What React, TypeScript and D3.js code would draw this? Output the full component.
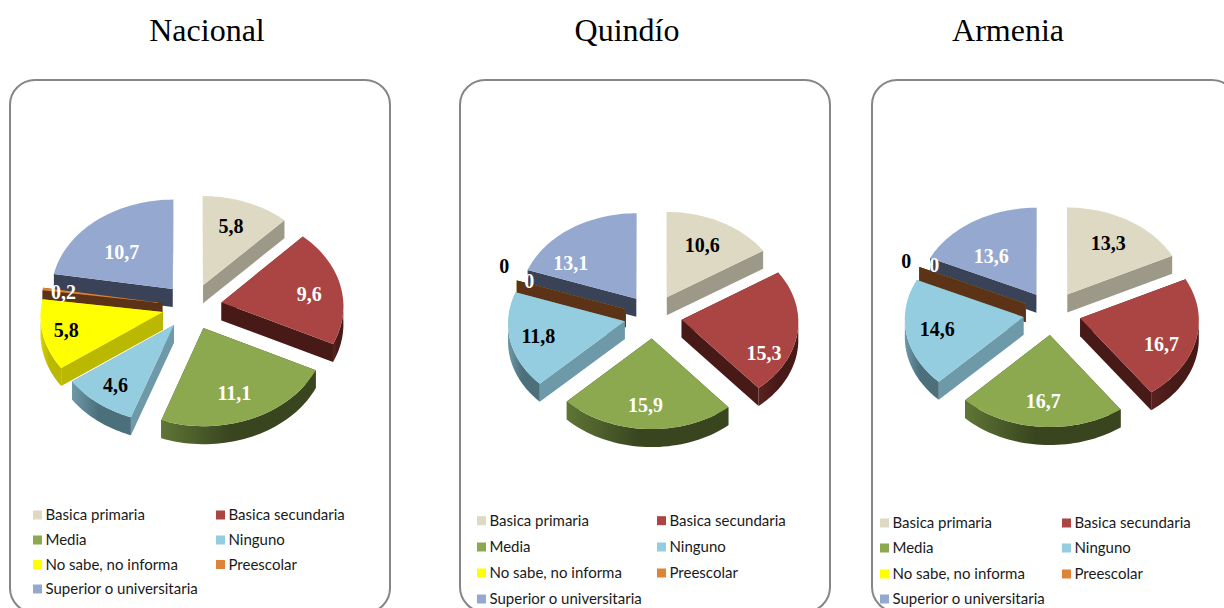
import React from "react";
import * as d3 from "d3";

const categories = [
  "Basica primaria",
  "Basica secundaria",
  "Media",
  "Ninguno",
  "No sabe, no informa",
  "Preescolar",
  "Superior o universitaria",
];

const nacionalValues = [5.8, 9.6, 11.1, 4.6, 5.8, 0.2, 10.7];
const quindioValues = [10.6, 15.3, 15.9, 11.8, 0, 0, 13.1];
const armeniaValues = [13.3, 16.7, 16.7, 14.6, 0, 0, 13.6];

const topColors = ["#DDD9C3", "#AB4543", "#8CA94F", "#93CDDF", "#FFFF00", "#DD8438", "#95A8D0"];
const edgeColors = ["#9C9988", "#471A18", "#38451F", "#6E99A8", "#BAB800", "#5C3317", "#3A4258"];
const wallLight = ["#9C9988", "#5A2220", "#5F7535", "#6E99A8", "#D6D400", "#5C3317", "#3A4258"];
const wallDark = ["#9C9988", "#471A18", "#38451F", "#4C6F7C", "#BAB800", "#5C3317", "#3A4258"];
const labelColors = ["#000", "#fff", "#fff", "#000", "#000", "#fff", "#fff"];

// layout of each panel
const panels = [
  {
    title: "Nacional",
    values: nacionalValues,
    titleX: 207,
    box: [10, 80, 380, 533],
    cx: 192, cy: 306.5, radius: 122, tilt: 0.768, perspective: 0.033, explode: 30, depth: 18,
    legendX: [33, 216], legendY: [515, 540, 564.5, 589],
    labelShift: [[-3.5, 1], [2, 3.5], [-3.5, 0], [-4, 4], [-10.5, 2], [-12.5, -1], [4, 13]],
  },
  {
    title: "Quindío",
    values: quindioValues,
    titleX: 627,
    box: [460, 80, 370, 532],
    cx: 653, cy: 316.5, radius: 116.5, tilt: 0.755, perspective: 0.02, explode: 29, depth: 18,
    legendX: [477, 657], legendY: [520.7, 547, 573, 599],
    labelShift: [[-4, 2], [-1, 24], [-2, 1.5], [-4, 1.3], [-43, -23], [-18, -8], [-18, 15]],
  },
  {
    title: "Armenia",
    values: armeniaValues,
    titleX: 1008,
    box: [872, 80, 365, 532],
    cx: 1052, cy: 313, radius: 118.5, tilt: 0.755, perspective: 0.02, explode: 29, depth: 18,
    legendX: [880, 1062], legendY: [523, 548, 574, 599],
    labelShift: [[-3.4, 2], [-2, 9.5], [0, 0.3], [-2, 0.4], [-42.7, -16], [-14.7, -12], [0, 14.6]],
  },
];

const colorOf = d3.scaleOrdinal<string, string>(categories, topColors);
const edgeOf = d3.scaleOrdinal<string, string>(categories, edgeColors);
const pieLayout = d3.pie<number>().sort(null).value((d) => d);
const linePath = d3.line();

const PiePanel = ({ panel }: any) => {
  const { cx, cy, radius, tilt, perspective, explode, depth } = panel;

  // pie plane to screen, the front of the pie is a bit bigger than the back
  const project = (px: number, py: number): [number, number] => {
    const s = 1 - (perspective * py) / radius;
    return [cx + px * s, cy - py * tilt * s];
  };

  const arcs = pieLayout(panel.values).map((a, i) => {
    const mid = (a.startAngle + a.endAngle) / 2;
    return { ...a, i, mid, ox: explode * Math.sin(mid), oy: explode * Math.cos(mid) };
  });

  const slices = [...arcs].sort((p, q) => Math.cos(q.mid) - Math.cos(p.mid));

  return (
    <g>
      {slices.map((a) => {
        const name = categories[a.i];
        const place = (px: number, py: number) => project(a.ox + px, a.oy + py);
        const rim = (from: number, to: number) =>
          d3.range(0, 41).map((k) => {
            const t = from + ((to - from) * k) / 40;
            return place(radius * Math.sin(t), radius * Math.cos(t));
          });
        const top = rim(a.startAngle, a.endAngle);
        const apex = place(0, 0);
        const down = (p: [number, number]): [number, number] => [p[0], p[1] + depth];
        const frontFrom = Math.max(a.startAngle, Math.PI / 2);
        const frontTo = Math.min(a.endAngle, (3 * Math.PI) / 2);
        const front = frontTo > frontFrom ? rim(frontFrom, frontTo) : null;
        return (
          <g key={name}>
            {[top[0], top[top.length - 1]].map((p, k) => (
              <path key={k} d={linePath([apex, p, down(p), down(apex)]) + "Z"} fill={edgeOf(name)} />
            ))}
            {front && (
              <path
                d={linePath([...front, ...[...front].reverse().map(down)]) + "Z"}
                fill={`url(#wall-${a.i})`}
              />
            )}
            <path d={linePath([apex, ...top]) + "Z"} fill={colorOf(name)} />
          </g>
        );
      })}
      {arcs.map((a) => {
        const f = 0.72;
        const [dx, dy] = panel.labelShift[a.i];
        const [x, y] = project(
          a.ox + radius * f * Math.sin(a.mid),
          a.oy + radius * f * Math.cos(a.mid)
        );
        return (
          <text
            key={a.i}
            x={x + dx}
            y={y + dy}
            dy="0.35em"
            textAnchor="middle"
            fontFamily="'Liberation Serif', serif"
            fontWeight="bold"
            fontSize={20}
            fill={labelColors[a.i]}
          >
            {String(panel.values[a.i]).replace(".", ",")}
          </text>
        );
      })}
    </g>
  );
};

const Legend = ({ panel }: any) => (
  <g>
    {categories.map((name, i) => {
      const x = panel.legendX[i % 2];
      const y = panel.legendY[Math.floor(i / 2)];
      return (
        <g key={name}>
          <rect x={x} y={y - 4.5} width={9} height={9} fill={colorOf(name)} />
          <text
            x={x + 12.5}
            y={y}
            dy="0.35em"
            fontFamily="Lato, sans-serif"
            fontSize={15}
            fill="#1a1a1a"
          >
            {name}
          </text>
        </g>
      );
    })}
  </g>
);

export default function App() {
  return (
    <svg
      width={1224}
      height={608}
      style={{ position: "absolute", left: 0, top: 0, display: "block", background: "#fff" }}
    >
      <defs>
        {categories.map((_, i) => (
          <linearGradient key={i} id={`wall-${i}`} x1="0" x2="1" y1="0" y2="0">
            <stop offset="0" stopColor={wallLight[i]} />
            <stop offset="0.45" stopColor={wallDark[i]} />
          </linearGradient>
        ))}
      </defs>
      {panels.map((panel) => (
        <g key={panel.title}>
          <text
            x={panel.titleX}
            y={41}
            textAnchor="middle"
            fontFamily="'Liberation Serif', serif"
            fontSize={32}
            fill="#000"
          >
            {panel.title}
          </text>
          <rect
            x={panel.box[0]}
            y={panel.box[1]}
            width={panel.box[2]}
            height={panel.box[3]}
            rx={25}
            fill="#fff"
            stroke="#868686"
            strokeWidth={2}
          />
          <PiePanel panel={panel} />
          <Legend panel={panel} />
        </g>
      ))}
    </svg>
  );
}
